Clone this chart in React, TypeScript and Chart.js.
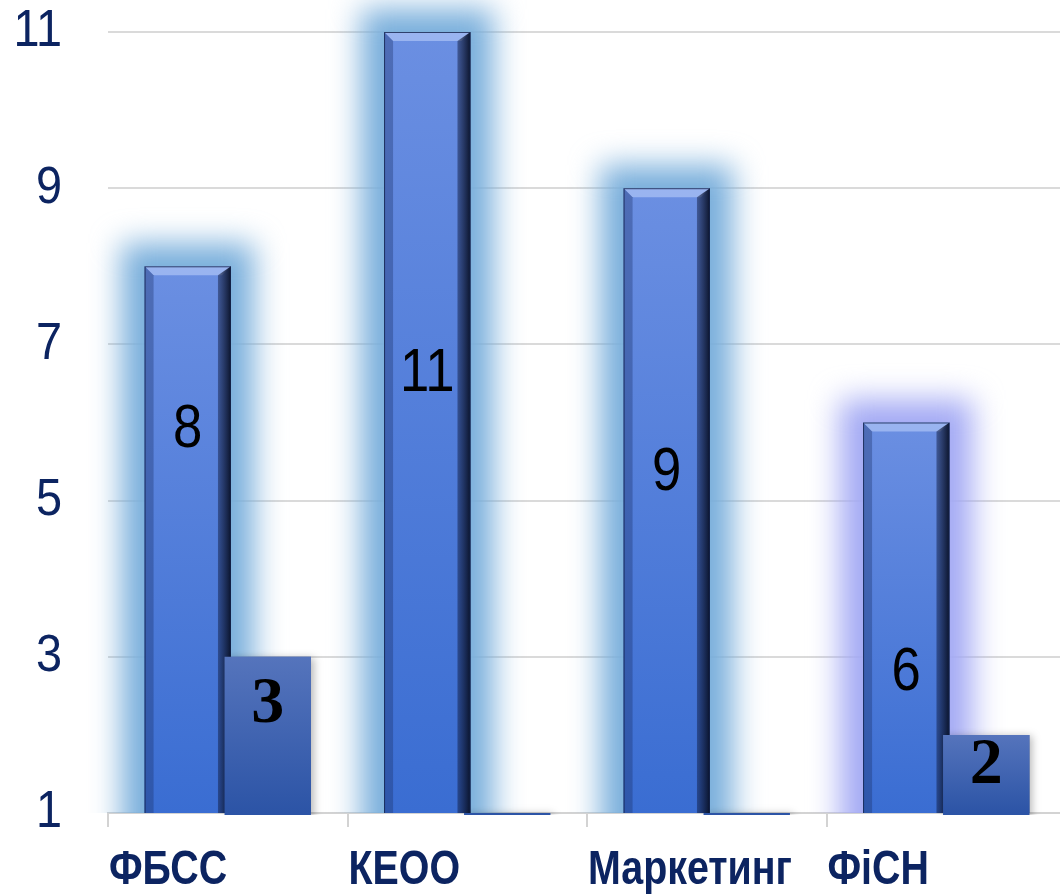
import React, { useEffect, useRef } from "react";
import { Chart, registerables } from "chart.js";

Chart.register(...registerables);

const categories = ["ФБСС", "КЕОО", "Маркетинг", "ФіСН"];
const seriesA = [8, 11, 9, 6];
const seriesB = [3, 1, 1, 2];
const yTicks = [1, 3, 5, 7, 9, 11];
const labelsA = ["8", "11", "9", "6"];
const labelsB = ["3", "", "", "2"];
const labelAnchorA = [5.9, 6.62, 5.35, 2.8];
const labelAnchorB = [2.38, 1, 1, 1.6];

const glowColors = ["#78aedb", "#78aedb", "#78aedb", "#a3a9f4"];
const SANS = '"Liberation Sans", Arial, sans-serif';
const SERIF = '"Liberation Serif", "Times New Roman", serif';
const NAVY = "#0c2461";

const drawText = (
  ctx: CanvasRenderingContext2D,
  text: string,
  x: number,
  y: number,
  font: string,
  align: CanvasTextAlign,
  baseline: CanvasTextBaseline,
  sx: number,
  color: string
) => {
  ctx.save();
  ctx.translate(x, y);
  ctx.scale(sx, 1);
  ctx.font = font;
  ctx.fillStyle = color;
  ctx.textAlign = align;
  ctx.textBaseline = baseline;
  ctx.fillText(text, 0, 0);
  ctx.restore();
};

const barGrad = (top: string, bottom: string) => (c: any) => {
  const chart = c.chart;
  const a = chart.chartArea;
  const ys = chart.scales?.y;
  if (!a || !ys || c.raw == null) return bottom;
  const yTop = ys.getPixelForValue(c.raw);
  const g = chart.ctx.createLinearGradient(0, Math.min(yTop, a.bottom - 1), 0, a.bottom);
  g.addColorStop(0, top);
  g.addColorStop(1, bottom);
  return g;
};

const decoPlugin = {
  id: "deco",
  beforeDatasetsDraw(chart: any) {
    const { ctx, chartArea } = chart;
    const meta = chart.getDatasetMeta(0);
    ctx.save();
    ctx.beginPath();
    ctx.rect(0, 0, chart.width, chartArea.bottom);
    ctx.clip();
    meta.data.forEach((el: any, i: number) => {
      const { x, y, base, width } = el.getProps(["x", "y", "base", "width"], true);
      ctx.filter = "blur(15px)";
      ctx.fillStyle = glowColors[i];
      const pad = 23;
      ctx.fillRect(x - width / 2 - pad, y - pad, width + 2 * pad, base - y + 2 * pad);
    });
    ctx.restore();
  },
  afterDatasetDraw(chart: any, args: any) {
    if (args.index !== 0) return;
    const { ctx, chartArea } = chart;
    ctx.save();
    ctx.beginPath();
    ctx.rect(chartArea.left, chartArea.top, chartArea.right - chartArea.left, chartArea.bottom - chartArea.top);
    ctx.clip();
    args.meta.data.forEach((el: any) => {
      const { x, y, base, width } = el.getProps(["x", "y", "base", "width"], true);
      const l = x - width / 2, r = x + width / 2, t = y, b = base, bv = 9;
      ctx.fillStyle = "rgba(185,205,250,0.6)";
      ctx.beginPath();
      ctx.moveTo(l, t); ctx.lineTo(r, t); ctx.lineTo(r - bv, t + bv); ctx.lineTo(l + bv, t + bv);
      ctx.closePath(); ctx.fill();
      ctx.fillStyle = "rgba(25,45,100,0.35)";
      ctx.beginPath();
      ctx.moveTo(l, t); ctx.lineTo(l + bv, t + bv); ctx.lineTo(l + bv, b - bv); ctx.lineTo(l, b);
      ctx.closePath(); ctx.fill();
      const g = ctx.createLinearGradient(r - bv - 4, 0, r, 0);
      g.addColorStop(0, "rgba(15,25,60,0.45)");
      g.addColorStop(1, "rgba(8,15,35,0.95)");
      ctx.fillStyle = g;
      ctx.beginPath();
      ctx.moveTo(r, t); ctx.lineTo(r, b); ctx.lineTo(r - bv - 4, b - bv); ctx.lineTo(r - bv - 4, t + bv);
      ctx.closePath(); ctx.fill();
      ctx.fillStyle = "rgba(20,40,90,0.45)";
      ctx.beginPath();
      ctx.moveTo(l, b); ctx.lineTo(r, b); ctx.lineTo(r - bv, b - bv); ctx.lineTo(l + bv, b - bv);
      ctx.closePath(); ctx.fill();
      ctx.strokeStyle = "rgba(20,35,75,0.8)";
      ctx.lineWidth = 1;
      ctx.strokeRect(l + 0.5, t + 0.5, width - 1, b - t - 1);
    });
    ctx.restore();
  },
  afterDatasetsDraw(chart: any) {
    const { ctx, chartArea } = chart;
    const ys = chart.scales.y;
    const xs = chart.scales.x;
    ctx.save();
    ctx.beginPath();
    ctx.rect(chartArea.left, chartArea.top, chartArea.right - chartArea.left, chartArea.bottom - chartArea.top + 2);
    ctx.clip();
    ctx.shadowColor = "rgba(0,0,0,0.28)";
    ctx.shadowBlur = 8;
    ctx.shadowOffsetX = 3;
    ctx.shadowOffsetY = 1;
    chart.getDatasetMeta(1).data.forEach((el: any) => el.draw(ctx));
    ctx.restore();

    chart.getDatasetMeta(0).data.forEach((el: any, i: number) => {
      drawText(ctx, labelsA[i], el.x, ys.getPixelForValue(labelAnchorA[i]), `62px ${SANS}`, "center", "middle", 0.85, "#000");
    });
    chart.getDatasetMeta(1).data.forEach((el: any, i: number) => {
      if (labelsB[i])
        drawText(ctx, labelsB[i], el.x, ys.getPixelForValue(labelAnchorB[i]), `bold 66px ${SERIF}`, "center", "middle", 1, "#000");
    });

    yTicks.forEach((v) => {
      drawText(ctx, String(v), 62, ys.getPixelForValue(v), `52px ${SANS}`, "right", "middle", 0.9, NAVY);
    });
    const catW = (xs.right - xs.left) / categories.length;
    categories.forEach((c, i) => {
      const x0 = xs.getPixelForTick(i) - catW / 2 + 1;
      drawText(ctx, c, x0, 871, `bold 48px ${SANS}`, "left", "middle", 0.82, NAVY);
    });
  },
};

export default function App() {
  const ref = useRef<HTMLCanvasElement | null>(null);
  useEffect(() => {
    if (!ref.current) return;
    const chart = new Chart(ref.current, {
      type: "bar",
      data: {
        labels: categories,
        datasets: [
          {
            data: seriesA,
            backgroundColor: barGrad("#6b8fe2", "#3a6dd2"),
            borderWidth: 0,
            categoryPercentage: 0.668,
            barPercentage: 1.08,
          },
          {
            data: seriesB,
            backgroundColor: barGrad("#5574bc", "#2c54a6"),
            borderWidth: 0,
            minBarLength: 4,
            categoryPercentage: 0.668,
            barPercentage: 1.08,
          },
        ],
      },
      options: {
        animation: false,
        responsive: true,
        maintainAspectRatio: false,
        layout: { padding: { top: 32, left: 0, right: 0, bottom: 0 } },
        plugins: { legend: { display: false }, tooltip: { enabled: false } },
        scales: {
          x: {
            grid: {
              display: true,
              drawOnChartArea: false,
              drawTicks: true,
              tickLength: 14,
              color: "#d3d3d3",
              lineWidth: 2,
              offset: true,
            },
            border: { display: true, color: "#d3d3d3", width: 2 },
            ticks: { display: false },
            afterFit: (s: any) => {
              s.height = 83;
            },
          },
          y: {
            min: 1,
            max: 11,
            afterBuildTicks: (s: any) => {
              s.ticks = yTicks.map((v) => ({ value: v }));
            },
            afterFit: (s: any) => {
              s.width = 108;
            },
            grid: { color: "#dadada", lineWidth: 2, drawTicks: false },
            border: { display: false },
            ticks: { display: false },
          },
        },
      },
      plugins: [decoPlugin],
    });
    return () => chart.destroy();
  }, []);
  return (
    <div style={{ position: "absolute", left: 0, top: 0, width: 1060, height: 896, overflow: "hidden", background: "#fff" }}>
      <div style={{ position: "relative", width: 1066, height: 896 }}>
        <canvas ref={ref} />
      </div>
    </div>
  );
}
